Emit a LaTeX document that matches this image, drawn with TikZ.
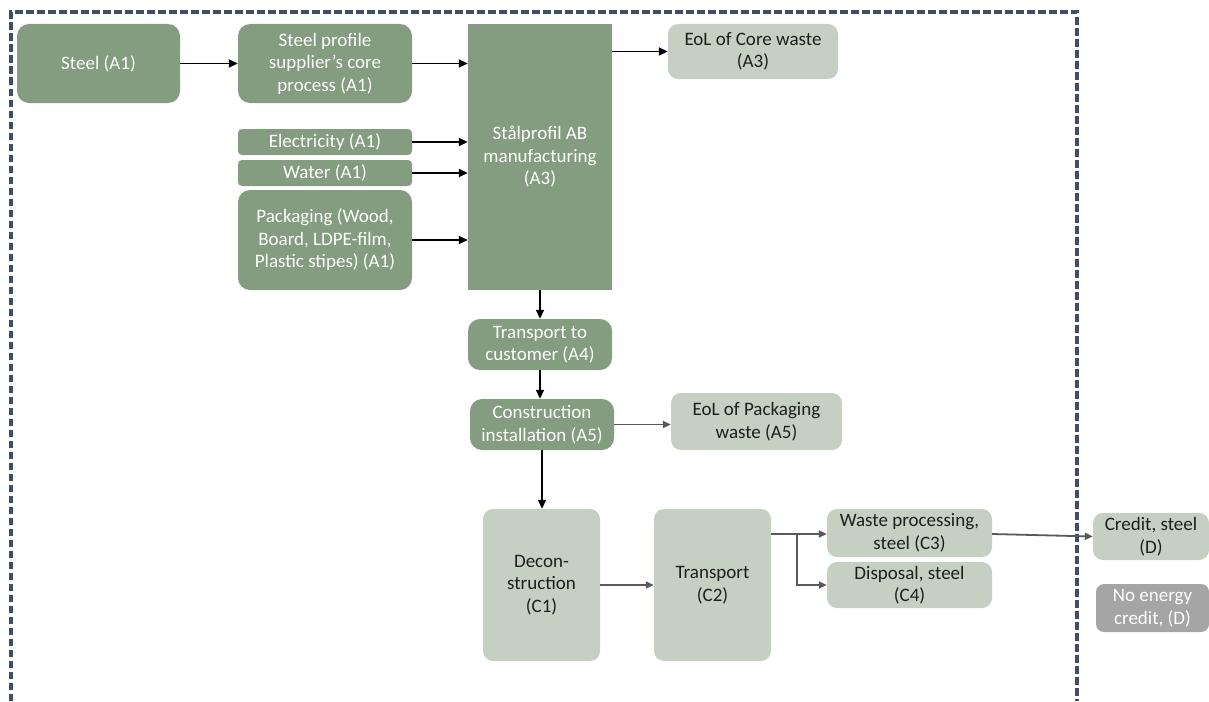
\documentclass[tikz,border=0pt]{standalone}
\usepackage{fontspec}
\setmainfont{Carlito}
\usetikzlibrary{arrows.meta,calc}
\definecolor{dkgreen}{HTML}{849C7F}
\definecolor{ltgreen}{HTML}{C5D0C3}
\definecolor{greybox}{HTML}{A5A5A5}
\definecolor{framecol}{HTML}{404F63}
\definecolor{arrowgrey}{HTML}{595959}
\definecolor{txtdark}{HTML}{1E1E1E}
\tikzset{
    stage/.style={align=center, inner sep=0pt, font=\fontsize{19}{22.5}\selectfont},
    dkbox/.style={stage, fill=dkgreen, text=white, rounded corners=12pt},
    inbox/.style={dkbox, rounded corners=4pt},
    plantbox/.style={stage, fill=dkgreen, text=white},
    ltbox/.style={stage, fill=ltgreen, text=txtdark, rounded corners=10pt},
    greyb/.style={stage, fill=greybox, text=white, rounded corners=8pt},
    flow/.style={draw=black, line width=1.7pt, -{Triangle[length=9pt,width=8pt]}},
    flowgrey/.style={draw=arrowgrey, line width=1.8pt, -{Triangle[length=8pt,width=7pt]}},
    boundary/.style={draw=framecol, line width=3.2pt, dash pattern=on 7.5pt off 3.5pt}
}
% box from its corners: style, name, x1, y1, x2, y2, text
\newcommand\stagebox[7]{
    \node[#1, minimum width={#5-#3}, minimum height={#6-#4}] (#2)
        at ({(#3+#5)/2},{(#4+#6)/2}) {#7};
}

\begin{document}
\begin{tikzpicture}[x=1pt,y=-1pt]
    \useasboundingbox (0,0) rectangle (1209,701);
    \draw[boundary] (11,701) -- (11,12) -- (1077,12) -- (1077,701);

    % A1 - A3
    \stagebox{dkbox}{steel}{17}{24}{180}{103}{Steel (A1)}
    \stagebox{dkbox}{supplier}{238}{24}{412}{103}{Steel profile\\supplier’s core\\process (A1)}
    \stagebox{inbox}{elec}{238}{129}{412}{155}{Electricity (A1)}
    \stagebox{inbox}{water}{238}{160}{412}{186}{Water (A1)}
    \stagebox{dkbox}{pack}{238}{190}{412}{290}{Packaging (Wood,\\Board, LDPE-film,\\Plastic stipes) (A1)}
    \node[plantbox, minimum width=144, minimum height=266] (plant) at (540,157)
        {Stålprofil AB\\manufacturing\\(A3)};
    \stagebox{ltbox}{eolcore}{668}{24}{838}{79}{EoL of Core waste\\(A3)}

    % A4 - A5
    \stagebox{dkbox}{transport}{468}{319}{612}{370}{Transport to\\customer (A4)}
    \stagebox{dkbox}{install}{470}{399}{614}{450}{Construction\\installation (A5)}
    \stagebox{ltbox}{eolpack}{671}{393}{842}{450}{EoL of Packaging\\waste (A5)}

    % C1 - C4, D
    \stagebox{ltbox}{decon}{483}{509}{600}{661}{Decon-\\struction\\(C1)}
    \stagebox{ltbox}{transC}{654}{509}{771}{661}{Transport\\(C2)}
    \stagebox{ltbox}{wasteproc}{827}{509}{992}{557}{Waste processing,\\steel (C3)}
    \stagebox{ltbox}{disposal}{827}{562}{992}{608}{Disposal, steel\\(C4)}
    \stagebox{ltbox}{credit}{1093}{513}{1209}{560}{Credit, steel\\(D)}
    \stagebox{greyb}{noenergy}{1096}{584}{1209}{632}{No energy\\credit, (D)}

    % flows
    \draw[flow] (steel) -- (supplier);
    \foreach \src in {supplier,elec,water,pack}
        \draw[flow] (\src.east) -- (\src.east -| plant.west);
    \draw[flow] (eolcore.west -| plant.east) -- (eolcore.west);
    \draw[flow] (plant.south) -- (transport.north);
    \draw[flow] (transport.south) -- (transport.south |- install.north);
    \draw[flowgrey] (install.east) -- (install.east -| eolpack.west);
    \draw[flow] (install.south) -- (install.south |- decon.north);
    \draw[flowgrey] (decon) -- (transC);
    \coordinate (split) at (797,534);
    \draw[flowgrey] (transC.east |- split) -- (split -| wasteproc.west);
    \draw[flowgrey] (split) |- (disposal.west);
    \draw[flowgrey] (wasteproc.east |- split) -- (credit.west);
\end{tikzpicture}
\end{document}
